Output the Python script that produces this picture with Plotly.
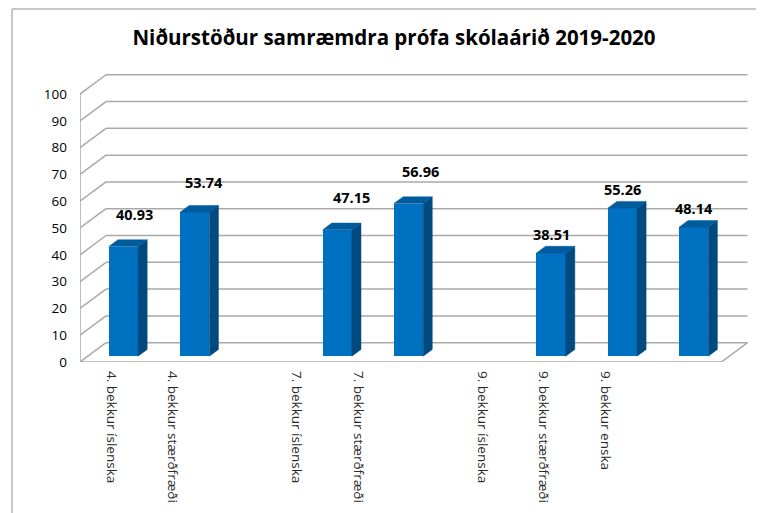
import plotly.graph_objects as go

# ---------------- data ----------------
categories = ["4. bekkur íslenska", "4. bekkur stærðfræði", "",
              "7. bekkur íslenska", "7. bekkur stærðfræði", "",
              "9. bekkur íslenska", "9. bekkur stærðfræði", "9. bekkur enska"]
values = [40.93, 53.74, None, 47.15, 56.96, None, 38.51, 55.26, 48.14]
y_ticks = [0, 10, 20, 30, 40, 50, 60, 70, 80, 90, 100]
title_text = "Niðurstöður samræmdra prófa skólaárið 2019-2020"

# ---------------- styling / geometry ----------------
W, H = 764, 513
OFF = 8                       # page body margin offset (screen px)
L = 80 - OFF
T = 60 - OFF
B = H - (362 - OFF)
X0, X1 = -0.5, 8.9
PXS = 71.25                   # px per slot
R = W - (L + (X1 - X0) * PXS)
Y0, Y1 = 0, 112.7
DX, DY = 0.365, 7.2           # full depth offset of the 3D box (data units)
F0, FB = 0.30, 0.35           # bar front depth fraction, bar thickness fraction
BW = 0.41                     # bar front width (slots)
GRID = "#A9A9A9"
FRONT = "#0070C0"
SIDE = "#004A80"
TOP = "#005C9E"
# label shifts (px) per bar, as placed in the original
lab_dx = [11, 9, 0, 14, 12, 0, 0, 0, 0]
lab_dy = [25, 23, 0, 26, 25, 0, 12, 12, 12]

n = len(categories)
fig = go.Figure()

def gline(x0, y0, x1, y1):
    fig.add_shape(type="line", xref="x", yref="y", x0=x0, y0=y0, x1=x1, y1=y1,
                  layer="below", line=dict(color=GRID, width=1.5))

# ----- walls / grid lines (below the bars) -----
for v in y_ticks:
    gline(X0, v, X0 + DX, v + DY)                 # side wall diagonal
    gline(X0 + DX, v + DY, X0 + n + DX, v + DY)   # back wall horizontal
gline(X0, 0, X0 + n, 0)                           # floor front edge
gline(X0 + n, 0, X0 + n + DX, DY)                 # floor right edge
gline(X0, 0, X0, y_ticks[-1])                     # side wall front edge

# ----- bar front faces -----
bx = [i + F0 * DX for i in range(n)]
fig.add_trace(go.Bar(x=bx, y=[v if v is not None else 0 for v in values],
                     base=F0 * DY, width=BW,
                     marker=dict(color=FRONT, line=dict(width=0)),
                     showlegend=False, hoverinfo="skip"))

# ----- bar side and top faces -----
for i, v in enumerate(values):
    if v is None:
        continue
    xl = i - BW / 2 + F0 * DX
    xr = i + BW / 2 + F0 * DX
    yb = F0 * DY
    yt = v + F0 * DY
    ddx, ddy = FB * DX, FB * DY
    fig.add_trace(go.Scatter(
        x=[xr, xr + ddx, xr + ddx, xr, xr],
        y=[yb, yb + ddy, yt + ddy, yt, yb],
        fill="toself", fillcolor=SIDE, mode="lines",
        line=dict(color=SIDE, width=0.5),
        hoverinfo="skip", showlegend=False))
    fig.add_trace(go.Scatter(
        x=[xl, xl + ddx, xr + ddx, xr, xl],
        y=[yt, yt + ddy, yt + ddy, yt, yt],
        fill="toself", fillcolor=TOP, mode="lines",
        line=dict(color=TOP, width=0.5),
        hoverinfo="skip", showlegend=False))

# ----- data labels -----
for i, v in enumerate(values):
    if v is None:
        continue
    fig.add_annotation(x=i + F0 * DX, y=v + F0 * DY + FB * DY,
                       text=f"<b>{v:.2f}</b>", showarrow=False,
                       xshift=lab_dx[i], yshift=lab_dy[i],
                       yanchor="middle", xanchor="center",
                       font=dict(family="Open Sans", size=14.5, color="#000000"))

# ----- category axis (labels) on a second x axis -----
pw = W - L - R
lab_px0, lab_step = 111 - OFF, 61.8
r0 = -(lab_px0 - L) / lab_step
r1 = r0 + pw / lab_step

plot_h = H - T - B
def py2paper(py):
    return (H - B - (py - OFF)) / plot_h
def px2paper(px):
    return ((px - OFF) - L) / pw

fig.update_layout(
    width=W, height=H,
    margin=dict(l=L, r=R, t=T, b=B, pad=0),
    paper_bgcolor="white", plot_bgcolor="white",
    font=dict(family="Open Sans", color="#404040"),
    title=dict(text=f"<b>{title_text}</b>", xref="container",
               x=(394 - OFF) / W, xanchor="center",
               y=1 - (38 - OFF) / H, yanchor="middle",
               font=dict(family="Open Sans", size=20.5, color="#000000")),
    xaxis=dict(range=[X0, X1], showgrid=False, zeroline=False,
               showticklabels=False, showline=False, ticks=""),
    xaxis2=dict(range=[r0, r1], overlaying="x", side="bottom",
                anchor="y", tickmode="array",
                tickvals=list(range(n)), ticktext=categories,
                tickangle=90, showgrid=False, zeroline=False, showline=False,
                ticks="", ticklabelstandoff=8,
                tickfont=dict(family="Open Sans", size=13.5, color="#2A2A2A")),
    yaxis=dict(range=[Y0, Y1], tickmode="array", tickvals=y_ticks,
               showgrid=False, zeroline=False, showline=False, ticks="",
               ticklabelstandoff=12,
               tickfont=dict(family="Open Sans", size=13.5, color="#000000")),
    bargap=0,
)
# dummy trace so xaxis2 is drawn
fig.add_trace(go.Scatter(x=[r0], y=[None], xaxis="x2", yaxis="y",
                         mode="markers", showlegend=False, hoverinfo="skip"))

# chart area border (spreadsheet look)
fig.add_shape(type="line", xref="paper", yref="paper",
              x0=px2paper(12), x1=px2paper(W + 20), y0=py2paper(9), y1=py2paper(9),
              line=dict(color="#B5B5B5", width=1.5))
fig.add_shape(type="line", xref="paper", yref="paper",
              x0=px2paper(12), x1=px2paper(12), y0=py2paper(9), y1=py2paper(H + 20),
              line=dict(color="#B5B5B5", width=1.5))

fig.write_html("out.html")
